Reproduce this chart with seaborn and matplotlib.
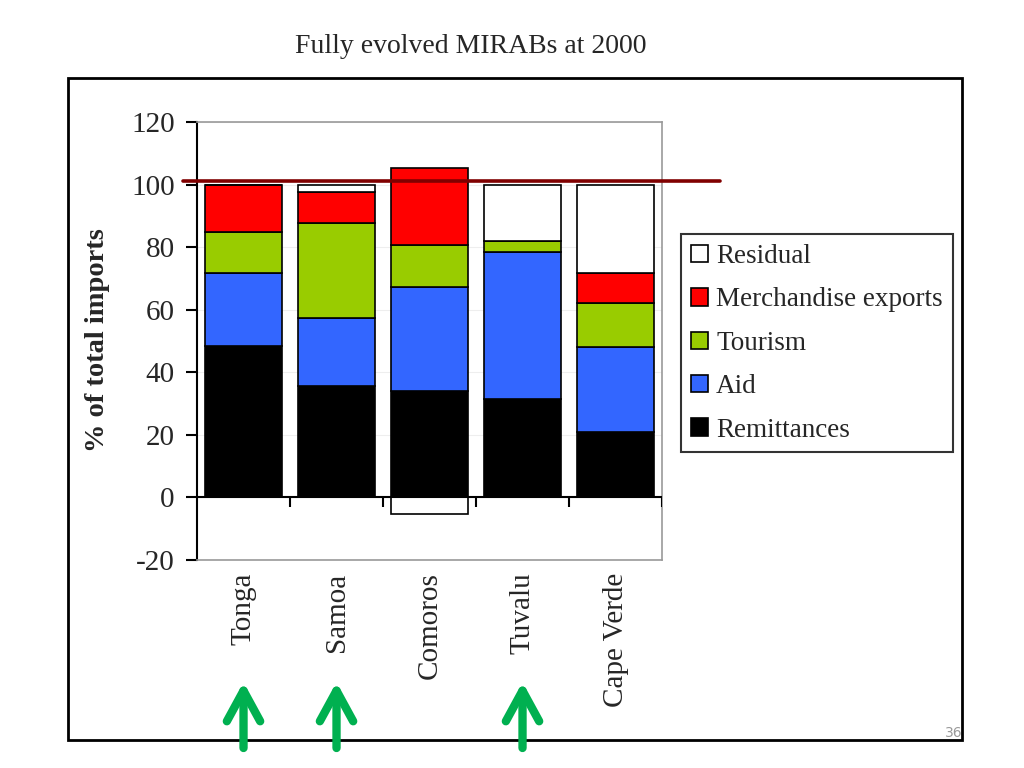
import numpy as np
import matplotlib
matplotlib.use("Agg")
import matplotlib.pyplot as plt
from matplotlib.patches import Patch, Rectangle
import seaborn as sns

# Shares of total imports
countries = ["Tonga", "Samoa", "Comoros", "Tuvalu", "Cape Verde"]
remittances = [48.4, 35.6, 34.0, 31.5, 21.0]
aid = [23.5, 21.8, 33.3, 46.8, 27.2]
tourism = [12.8, 30.2, 13.4, 3.6, 13.8]
merchandise = [15.3, 10.1, 24.5, 0.0, 9.9]
residual = [0.0, 2.3, -5.3, 18.1, 28.1]
full_level = 101
yticks = [-20, 0, 20, 40, 60, 80, 100, 120]
highlighted = ["Tonga", "Samoa", "Tuvalu"]

series = [
    ("Remittances", remittances, "#000000"),
    ("Aid", aid, "#3366FF"),
    ("Tourism", tourism, "#99CC00"),
    ("Merchandise exports", merchandise, "#FF0000"),
    ("Residual", residual, "#FFFFFF"),
]

sns.set_theme(style="white")
plt.rcParams["font.family"] = ["Liberation Serif", "DejaVu Serif"]
plt.rcParams["axes.unicode_minus"] = False

fig = plt.figure(figsize=(10.24, 7.68), dpi=100)
ax = fig.add_axes([0.1924, 0.2708, 0.4541, 0.5703])

# stacked bars; negative residual hangs down from zero
base = np.zeros(len(countries))
for name, vals, color in series:
    vals = np.asarray(vals, dtype=float)
    bottom = np.where(vals >= 0, base, 0.0)
    sns.barplot(x=countries, y=vals, bottom=bottom, color=color, width=0.83,
                edgecolor="black", linewidth=1.2, saturation=1, errorbar=None,
                ax=ax, zorder=3)
    base = base + np.clip(vals, 0, None)

ax.set_xlim(-0.5, len(countries) - 0.5)
ax.set_ylim(yticks[0], yticks[-1])
ax.set_yticks(yticks)
ax.set_xlabel("")
ax.set_ylabel("")
ax.grid(axis="y", color="#eeeeee", lw=0.8)
ax.set_axisbelow(True)

ax.tick_params(axis="y", direction="out", length=8, width=1.5, color="black",
               pad=8, labelsize=21, left=True)
ax.tick_params(axis="x", length=0, pad=9, labelsize=21)
plt.setp(ax.get_xticklabels(), rotation=90, ha="center", va="top")

ax.spines["left"].set_color("black")
ax.spines["left"].set_linewidth(1.5)
for side in ["top", "right", "bottom"]:
    ax.spines[side].set_color("#999999")
    ax.spines[side].set_linewidth(1.2)

# category axis at zero with boundary ticks
ax.axhline(0, color="black", lw=1.5, zorder=4)
ax.vlines(np.arange(len(countries)) + 0.5, -3, 0, color="black", lw=1.5, zorder=4)

# 100% reference line
ax.axhline(full_level, xmin=-0.03, xmax=1.125, color="#800000", lw=2.6,
           clip_on=False, zorder=5)

handles = [Patch(facecolor=c, edgecolor="black", lw=1.2) for _, _, c in series][::-1]
labels = [n for n, _, _ in series][::-1]
leg = fig.legend(handles, labels, loc="upper left", bbox_to_anchor=(0.665, 0.695),
                 frameon=True, fancybox=False, edgecolor="black", fontsize=19.5,
                 handlelength=0.62, handleheight=0.62, handletextpad=0.32,
                 labelspacing=0.68, borderpad=0.36, borderaxespad=0)
leg.get_frame().set_linewidth(1.5)

# green arrows under the highlighted countries
for name in highlighted:
    i = countries.index(name)
    ax.annotate("", xy=(i, 1 - 682 / 768), xytext=(i, 1 - 748 / 768),
                xycoords=("data", "figure fraction"),
                textcoords=("data", "figure fraction"),
                arrowprops=dict(arrowstyle="->,head_length=1.1,head_width=0.6",
                                lw=6, color="#00B050", shrinkA=0, shrinkB=0,
                                mutation_scale=20),
                annotation_clip=False)

fig.add_artist(Rectangle((68 / 1024, 1 - 740 / 768), (962 - 68) / 1024, (740 - 78) / 768,
                         transform=fig.transFigure, fill=False, lw=2,
                         edgecolor="black", zorder=-1))

fig.text(0.46, 0.939, "Fully evolved MIRABs at 2000", ha="center", va="center", fontsize=20)
fig.text(98 / 1024, 1 - 340 / 768, "% of total imports", rotation=90, ha="center",
         va="center", fontsize=20.5, fontweight="bold")
fig.text(0.931, 0.0456, "36", fontsize=10, color="#999999", ha="center", va="center",
         family="DejaVu Sans")

fig.savefig("out.png", dpi=100)
